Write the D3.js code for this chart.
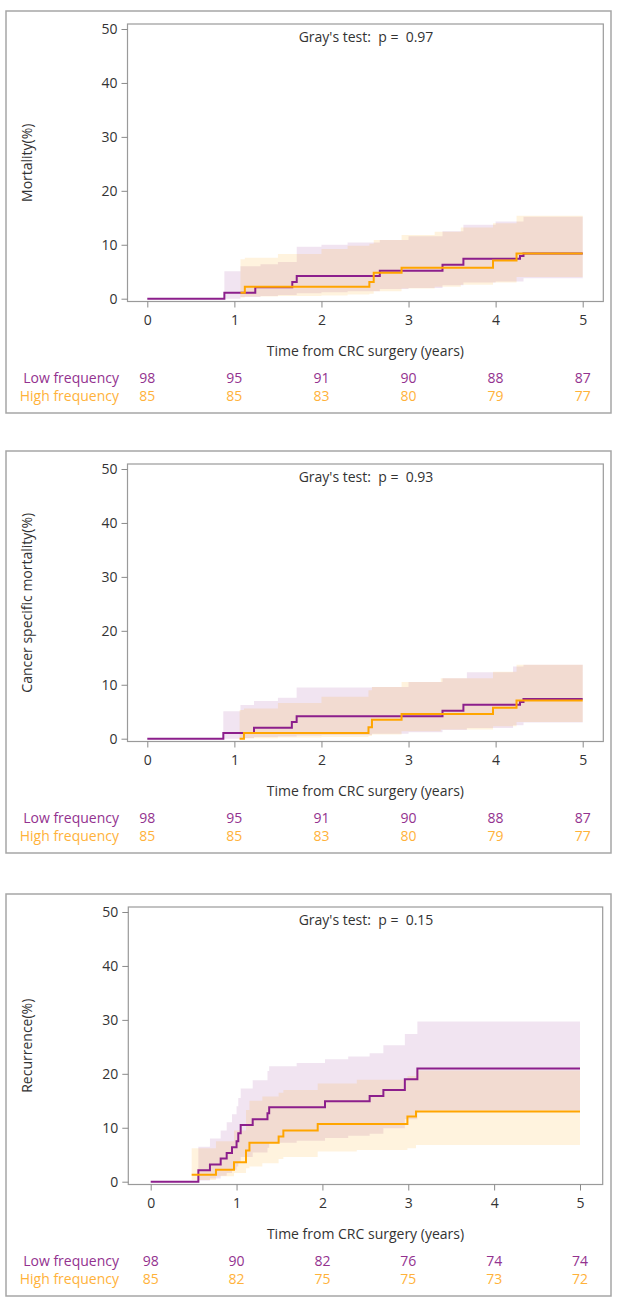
<!DOCTYPE html>
<html><head><meta charset="utf-8">
<script src="https://cdn.jsdelivr.net/npm/d3@7"></script>
<style>body{margin:0;background:#fff} svg{display:block}</style>
</head><body><svg id="c" width="617" height="1299"></svg>
<script>
// ---------- data ----------
const xTicks = [0, 1, 2, 3, 4, 5];
const yTicks = [0, 10, 20, 30, 40, 50];
const groups = ["Low frequency", "High frequency"];
const yTitles = ["Mortality(%)", "Cancer specific mortality(%)", "Recurrence(%)"];
const pValues = ["0.97", "0.93", "0.15"];

// at-risk counts
const risk1Low  = [98, 95, 91, 90, 88, 87];
const risk1High = [85, 85, 83, 80, 79, 77];
const risk2Low  = [98, 95, 91, 90, 88, 87];
const risk2High = [85, 85, 83, 80, 79, 77];
const risk3Low  = [98, 90, 82, 76, 74, 74];
const risk3High = [85, 82, 75, 75, 73, 72];

// Panel 1: mortality
const p1LowT  = [0, 0.885, 1.24, 1.665, 1.716, 2.67, 3.39, 3.63, 4.28, 4.32, 5];
const p1LowV  = [0, 1.1, 2.1, 3.1, 4.2, 5.2, 6.3, 7.4, 7.9, 8.4, 8.4];
const p1HighT = [1.07, 1.12, 2.55, 2.60, 2.92, 3.97, 4.24, 5];
const p1HighV = [1.1, 2.2, 3.1, 4.8, 5.75, 7.1, 8.4, 8.4];
const p1LowCIT  = [0.885, 1.07, 1.3, 1.5, 1.716, 2.0, 2.3, 2.67, 3.0, 3.39, 3.63, 4.0, 4.32, 5];
const p1LowCILo = [0, 0.3, 0.5, 0.7, 1.0, 1.2, 1.4, 1.8, 2.0, 2.5, 3.0, 3.2, 3.8, 3.8];
const p1LowCIUp = [5.1, 6.0, 6.4, 6.8, 9.65, 10.0, 10.4, 10.9, 11.6, 12.5, 13.7, 14.3, 15.2, 15.2];
const p1HighCIT  = [1.07, 1.12, 1.5, 2.0, 2.3, 2.55, 2.6, 2.92, 3.3, 3.6, 3.97, 4.24, 5];
const p1HighCILo = [0.2, 0.4, 0.5, 0.6, 0.8, 0.9, 1.4, 1.9, 2.2, 2.6, 3.0, 4.0, 4.0];
const p1HighCIUp = [7.3, 7.6, 8.3, 9.2, 9.8, 10.2, 10.9, 11.8, 12.4, 13.2, 14.0, 15.4, 15.4];

// Panel 2: cancer specific mortality
const p2LowT  = [0, 0.873, 1.225, 1.66, 1.715, 3.39, 3.63, 4.28, 4.32, 5];
const p2LowV  = [0, 1.06, 2.04, 3.1, 4.16, 5.2, 6.3, 6.8, 7.36, 7.36];
const p2HighT = [1.06, 1.11, 2.54, 2.58, 2.92, 3.97, 4.24, 5];
const p2HighV = [0, 1.06, 2.1, 3.5, 4.6, 5.75, 7.1, 7.1];
const p2LowCIT  = [0.873, 1.07, 1.225, 1.5, 1.715, 2.0, 2.58, 3.0, 3.39, 3.67, 4.2, 4.32, 5];
const p2LowCILo = [0, 0.1, 0.3, 0.4, 0.6, 0.7, 0.9, 1.2, 1.6, 2.0, 2.5, 3.0, 3.0];
const p2LowCIUp = [5.1, 6.25, 7.0, 7.6, 9.5, 9.5, 9.6, 10.5, 11.2, 12.3, 13.4, 13.7, 13.7];
const p2HighCIT  = [1.06, 1.11, 1.5, 2.0, 2.54, 2.58, 2.92, 3.37, 3.97, 4.24, 5];
const p2HighCILo = [0, 0.1, 0.2, 0.3, 0.5, 0.8, 1.4, 1.7, 2.3, 3.1, 3.1];
const p2HighCIUp = [5.3, 5.6, 6.6, 7.8, 9.0, 9.6, 10.5, 11.2, 12.4, 13.7, 13.7];

// Panel 3: recurrence
const p3LowT  = [0, 0.555, 0.69, 0.815, 0.885, 0.947, 1.0, 1.02, 1.048, 1.188, 1.36, 1.38, 2.03, 2.55, 2.71, 2.96, 3.106, 5];
const p3LowV  = [0, 2.1, 3.2, 4.3, 5.3, 6.4, 7.5, 9.0, 10.5, 11.6, 12.7, 13.8, 14.9, 15.9, 17.0, 19.0, 21.0, 21.0];
const p3HighT = [0.477, 0.76, 0.97, 1.11, 1.15, 1.49, 1.545, 1.945, 2.99, 3.09, 5];
const p3HighV = [1.3, 2.2, 3.6, 5.8, 7.2, 8.4, 9.5, 10.7, 12.1, 13.0, 13.0];
const p3LowCIT  = [0.555, 0.69, 0.815, 0.885, 0.947, 1.0, 1.02, 1.048, 1.188, 1.36, 1.38, 1.7, 2.03, 2.3, 2.55, 2.71, 2.96, 3.106, 5];
const p3LowCILo = [0.2, 0.6, 1.1, 1.6, 2.2, 2.8, 3.6, 4.6, 5.4, 6.3, 7.2, 7.6, 8.1, 8.5, 8.9, 9.9, 11.6, 13.2, 13.2];
const p3LowCIUp = [6.5, 8.0, 9.5, 11.0, 12.5, 14.0, 15.5, 17.3, 18.8, 20.5, 21.4, 22.0, 22.7, 23.2, 23.8, 25.3, 27.4, 29.7, 29.7];
const p3HighCIT  = [0.477, 0.76, 0.97, 1.11, 1.15, 1.3, 1.49, 1.545, 1.945, 2.4, 2.99, 3.09, 5];
const p3HighCILo = [0.3, 1.0, 1.6, 2.5, 2.8, 3.4, 4.2, 4.6, 5.6, 5.9, 6.2, 6.8, 6.8];
const p3HighCIUp = [6.2, 7.5, 9.5, 13.3, 15.0, 15.8, 16.5, 17.0, 18.2, 18.9, 19.6, 20.6, 20.6];

// ---------- assemble ----------
const panels = [
  {top: 11, x0: 147.3, x5: 582.7, fl: 127.5, fr: 603.3, title: yTitles[0], p: pValues[0],
   low: [p1LowT, p1LowV], high: [p1HighT, p1HighV],
   lowCI: [p1LowCIT, p1LowCILo, p1LowCIUp], highCI: [p1HighCIT, p1HighCILo, p1HighCIUp],
   riskLow: risk1Low, riskHigh: risk1High},
  {top: 451, x0: 147.3, x5: 582.7, fl: 127.5, fr: 603.3, title: yTitles[1], p: pValues[1],
   low: [p2LowT, p2LowV], high: [p2HighT, p2HighV],
   lowCI: [p2LowCIT, p2LowCILo, p2LowCIUp], highCI: [p2HighCIT, p2HighCILo, p2HighCIUp],
   riskLow: risk2Low, riskHigh: risk2High},
  {top: 894, x0: 150.7, x5: 580, fl: 128.3, fr: 602.7, title: yTitles[2], p: pValues[2],
   low: [p3LowT, p3LowV], high: [p3HighT, p3HighV],
   lowCI: [p3LowCIT, p3LowCILo, p3LowCIUp], highCI: [p3HighCIT, p3HighCILo, p3HighCIUp],
   riskLow: risk3Low, riskHigh: risk3High}
];

const purple = "#8c1f8c";
const orange = "#ffa500";
const purpleText = "#93328f";
const orangeText = "#ffb23a";
const font = "'Open Sans', 'Noto Sans', sans-serif";
const svg = d3.select("#c");

panels.forEach((P, i) => {
  const g = svg.append("g");
  const T = P.top;
  // outer box
  g.append("rect").attr("x", 6).attr("y", T).attr("width", 605).attr("height", 402)
    .attr("fill", "none").attr("stroke", "#a6a6a6").attr("stroke-width", 1.5);

  const x = d3.scaleLinear().domain([0, 5]).range([P.x0, P.x5]);
  const y = d3.scaleLinear().domain([0, 50]).range([T + 287.7, T + 18]);
  const fTop = T + 13, fBot = T + 290.5;

  const clipId = "clip" + i;
  g.append("clipPath").attr("id", clipId).append("rect")
    .attr("x", P.fl).attr("y", fTop).attr("width", P.fr - P.fl).attr("height", fBot - fTop);

  const plot = g.append("g").attr("clip-path", `url(#${clipId})`);

  const area = d3.area().curve(d3.curveStepAfter)
    .x(d => x(d[0])).y0(d => y(d[1])).y1(d => y(d[2]));
  const line = d3.line().curve(d3.curveStepAfter).x(d => x(d[0])).y(d => y(d[1]));

  const lowCI = P.lowCI[0].map((t, k) => [t, P.lowCI[1][k], P.lowCI[2][k]]);
  const highCI = P.highCI[0].map((t, k) => [t, P.highCI[1][k], P.highCI[2][k]]);
  plot.append("path").datum(lowCI).attr("d", area).attr("fill", purple).attr("fill-opacity", 0.12);
  plot.append("path").datum(highCI).attr("d", area).attr("fill", orange).attr("fill-opacity", 0.13);

  const lowPts = P.low[0].map((t, k) => [t, P.low[1][k]]);
  const highPts = P.high[0].map((t, k) => [t, P.high[1][k]]);
  plot.append("path").datum(lowPts).attr("d", line).attr("fill", "none")
    .attr("stroke", purple).attr("stroke-width", 2);
  plot.append("path").datum(highPts).attr("d", line).attr("fill", "none")
    .attr("stroke", orange).attr("stroke-width", 2);

  // frame
  g.append("rect").attr("x", P.fl).attr("y", fTop).attr("width", P.fr - P.fl).attr("height", fBot - fTop)
    .attr("fill", "none").attr("stroke", "#9a9a9a").attr("stroke-width", 1.2);

  // y axis
  const yAx = g.append("g").attr("transform", `translate(${P.fl},0)`)
    .call(d3.axisLeft(y).tickValues(yTicks).tickFormat(d3.format("d")).tickSize(6).tickPadding(4));
  yAx.select(".domain").remove();
  yAx.selectAll("line").attr("stroke", "#8a8a8a");
  yAx.selectAll("text").attr("font-family", font).attr("font-size", 14).attr("fill", "#333");

  // x axis
  const xAx = g.append("g").attr("transform", `translate(0,${fBot})`)
    .call(d3.axisBottom(x).tickValues(xTicks).tickFormat(d3.format("d")).tickSize(6).tickPadding(8));
  xAx.select(".domain").remove();
  xAx.selectAll("line").attr("stroke", "#8a8a8a");
  xAx.selectAll("text").attr("font-family", font).attr("font-size", 14).attr("fill", "#333");

  // titles
  g.append("text").attr("x", (P.fl + P.fr) / 2).attr("y", T + 345).attr("text-anchor", "middle")
    .attr("font-family", font).attr("font-size", 14).attr("fill", "#333")
    .text("Time from CRC surgery (years)");
  g.append("text").attr("transform", `translate(32,${(fTop + fBot) / 2}) rotate(-90)`)
    .attr("text-anchor", "middle").attr("font-family", font).attr("font-size", 14).attr("fill", "#333")
    .text(P.title);
  g.append("text").attr("x", 366).attr("y", T + 31).attr("text-anchor", "middle")
    .attr("font-family", font).attr("font-size", 14).attr("fill", "#333")
    .style("white-space", "pre").text(`Gray's test:  p =  ${P.p}`);

  // at-risk table
  const rows = [[groups[0], P.riskLow, purpleText, T + 372], [groups[1], P.riskHigh, orangeText, T + 390]];
  rows.forEach(([name, vals, col, by]) => {
    g.append("text").attr("x", 119).attr("y", by).attr("text-anchor", "end")
      .attr("font-family", font).attr("font-size", 14).attr("fill", col).text(name);
    g.selectAll(null).data(vals).enter().append("text")
      .attr("x", (d, k) => x(xTicks[k])).attr("y", by).attr("text-anchor", "middle")
      .attr("font-family", font).attr("font-size", 14).attr("fill", col).text(d => d);
  });
});
</script></body></html>
